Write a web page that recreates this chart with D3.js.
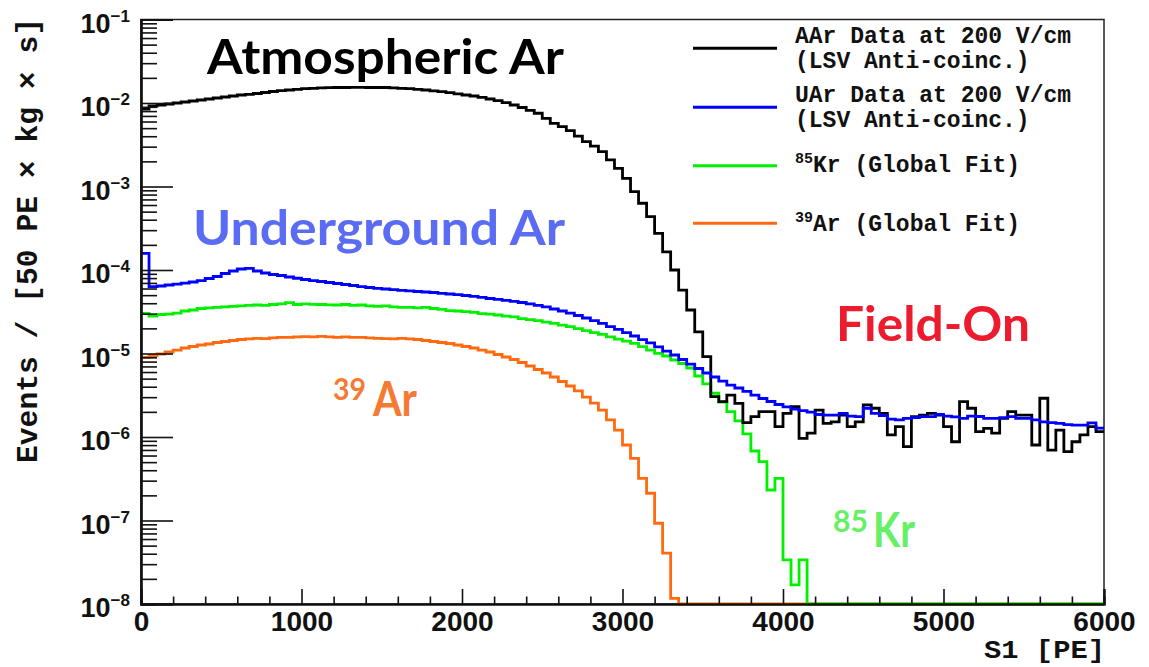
<!DOCTYPE html>
<html>
<head>
<meta charset="utf-8">
<script src="https://cdn.jsdelivr.net/npm/d3@7"></script>
<style>
  body { margin: 0; background: #fff; }
  svg { display: block; }
</style>
</head>
<body>
<div id="chart"></div>
<script>
// S1 spectra, 50 PE bins from 0 to 6000 PE (events / [50 PE x kg x s])
var binWidth = 50;

var aarData = [
  8.47e-3, 9.2e-3, 9.46e-3, 9.73e-3, 1.0e-2, 1.028e-2, 1.057e-2, 1.086e-2, 1.116e-2, 1.148e-2,
  1.18e-2, 1.213e-2, 1.247e-2, 1.271e-2, 1.30e-2, 1.336e-2, 1.374e-2, 1.404e-2, 1.432e-2, 1.46e-2,
  1.484e-2, 1.50e-2, 1.517e-2, 1.525e-2, 1.534e-2, 1.534e-2, 1.54e-2, 1.54e-2, 1.534e-2, 1.534e-2,
  1.534e-2, 1.52e-2, 1.50e-2, 1.484e-2, 1.46e-2, 1.432e-2, 1.40e-2, 1.365e-2, 1.328e-2, 1.288e-2,
  1.247e-2, 1.213e-2, 1.17e-2, 1.116e-2, 1.066e-2, 1.009e-2, 9.46e-3, 8.83e-3, 8.18e-3, 7.54e-3,
  6.56e-3, 5.71e-3, 5.2e-3, 4.66e-3, 4.02e-3, 3.44e-3, 3.05e-3, 2.61e-3, 2.08e-3, 1.65e-3,
  1.25e-3, 8.67e-4, 6.3e-4, 4.35e-4, 2.75e-4, 1.65e-4, 1.0e-4, 5.75e-5, 3.32e-5, 1.82e-5,
  9.16e-6, 3.04e-6, 2.65e-6, 3.18e-6, 2.53e-6, 1.49e-6, 1.75e-6, 2.01e-6, 2.01e-6, 1.33e-6,
  1.92e-6, 2.31e-6, 9.64e-7, 1.11e-6, 2.10e-6, 1.46e-6, 1.52e-6, 1.83e-6, 1.33e-6, 1.52e-6,
  2.42e-6, 2.21e-6, 1.92e-6, 1.06e-6, 1.33e-6, 7.65e-7, 1.75e-6, 1.83e-6, 1.92e-6, 1.83e-6,
  1.33e-6, 8.77e-7, 2.65e-6, 2.21e-6, 1.16e-6, 1.27e-6, 1.11e-6, 1.67e-6, 2.01e-6, 1.83e-6,
  1.83e-6, 8.02e-7, 2.91e-6, 6.98e-7, 1.21e-6, 6.67e-7, 8.77e-7, 1.06e-6, 1.33e-6, 1.16e-6
];

var uarData = [
  1.585e-4, 6.34e-5, 6.43e-5, 6.61e-5, 6.79e-5, 6.98e-5, 7.18e-5, 7.48e-5, 7.91e-5, 8.36e-5,
  9.08e-5, 9.73e-5, 1.028e-4, 1.047e-4, 9.73e-5, 9.21e-5, 8.83e-5, 8.59e-5, 8.24e-5, 7.96e-5,
  7.7e-5, 7.48e-5, 7.28e-5, 7.08e-5, 6.89e-5, 6.7e-5, 6.52e-5, 6.34e-5, 6.17e-5, 6.04e-5,
  5.92e-5, 5.81e-5, 5.71e-5, 5.61e-5, 5.53e-5, 5.45e-5, 5.38e-5, 5.26e-5, 5.16e-5, 5.06e-5,
  4.95e-5, 4.82e-5, 4.69e-5, 4.56e-5, 4.44e-5, 4.32e-5, 4.2e-5, 4.08e-5, 3.92e-5, 3.76e-5,
  3.61e-5, 3.41e-5, 3.23e-5, 3.05e-5, 2.85e-5, 2.66e-5, 2.48e-5, 2.29e-5, 2.1e-5, 1.94e-5,
  1.78e-5, 1.62e-5, 1.47e-5, 1.34e-5, 1.2e-5, 1.07e-5, 9.6e-6, 8.48e-6, 7.48e-6, 6.61e-6,
  5.84e-6, 5.23e-6, 4.68e-6, 4.19e-6, 3.86e-6, 3.51e-6, 3.18e-6, 2.89e-6, 2.66e-6, 2.45e-6,
  2.29e-6, 2.16e-6, 2.07e-6, 1.99e-6, 1.86e-6, 1.83e-6, 1.83e-6, 1.92e-6, 1.78e-6, 1.75e-6,
  2.21e-6, 1.92e-6, 1.81e-6, 1.64e-6, 1.60e-6, 1.67e-6, 1.71e-6, 1.75e-6, 1.75e-6, 1.87e-6,
  1.78e-6, 1.74e-6, 1.67e-6, 1.78e-6, 1.76e-6, 1.67e-6, 1.67e-6, 1.71e-6, 1.75e-6, 1.67e-6,
  1.67e-6, 1.60e-6, 1.52e-6, 1.49e-6, 1.46e-6, 1.41e-6, 1.39e-6, 1.39e-6, 1.48e-6, 1.28e-6
];

var kr85Data = [
  3.03e-5, 2.81e-5, 2.93e-5, 2.97e-5, 3.05e-5, 3.23e-5, 3.32e-5, 3.46e-5, 3.51e-5, 3.56e-5,
  3.61e-5, 3.66e-5, 3.71e-5, 3.76e-5, 3.81e-5, 3.76e-5, 3.86e-5, 3.92e-5, 4.06e-5, 3.86e-5,
  3.92e-5, 3.88e-5, 3.86e-5, 3.83e-5, 3.81e-5, 3.86e-5, 3.76e-5, 3.81e-5, 3.71e-5, 3.66e-5,
  3.71e-5, 3.61e-5, 3.56e-5, 3.57e-5, 3.51e-5, 3.56e-5, 3.46e-5, 3.37e-5, 3.27e-5, 3.23e-5,
  3.17e-5, 3.1e-5, 3.01e-5, 2.97e-5, 2.89e-5, 2.81e-5, 2.74e-5, 2.62e-5, 2.55e-5, 2.48e-5,
  2.38e-5, 2.29e-5, 2.19e-5, 2.1e-5, 1.99e-5, 1.88e-5, 1.78e-5, 1.69e-5, 1.58e-5, 1.49e-5,
  1.41e-5, 1.32e-5, 1.21e-5, 1.10e-5, 1.005e-5, 9.33e-6, 8.36e-6, 7.59e-6, 6.7e-6, 5.38e-6,
  4.32e-6, 3.34e-6, 2.62e-6, 2.01e-6, 1.56e-6, 1.09e-6, 6.8e-7, 5.06e-7, 2.32e-7, 3.2e-7,
  3.37e-8, 1.69e-8, 3.37e-8, 0, 0, 0, 0, 0, 0, 0,
  0, 0, 0, 0, 0, 0, 0, 0, 0, 0,
  0, 0, 0, 0, 0, 0, 0, 0, 0, 0,
  0, 0, 0, 0, 0, 0, 0, 0, 0, 0
];

var ar39Data = [
  8.99e-6, 9.46e-6, 9.86e-6, 1.042e-5, 1.10e-5, 1.164e-5, 1.213e-5, 1.265e-5, 1.30e-5, 1.355e-5,
  1.393e-5, 1.432e-5, 1.472e-5, 1.493e-5, 1.514e-5, 1.504e-5, 1.535e-5, 1.556e-5, 1.563e-5, 1.578e-5,
  1.59e-5, 1.578e-5, 1.60e-5, 1.578e-5, 1.563e-5, 1.578e-5, 1.556e-5, 1.563e-5, 1.535e-5, 1.514e-5,
  1.504e-5, 1.493e-5, 1.521e-5, 1.493e-5, 1.472e-5, 1.432e-5, 1.393e-5, 1.355e-5, 1.318e-5, 1.265e-5,
  1.213e-5, 1.164e-5, 1.10e-5, 1.042e-5, 9.73e-6, 9.08e-6, 8.48e-6, 7.8e-6, 7.08e-6, 6.43e-6,
  5.84e-6, 5.23e-6, 4.62e-6, 4.08e-6, 3.56e-6, 3.01e-6, 2.55e-6, 2.1e-6, 1.6e-6, 1.21e-6,
  8.02e-7, 5.56e-7, 3.2e-7, 2.12e-7, 9.27e-8, 4.06e-8, 1.17e-8, 0, 0, 0,
  0, 0, 0, 0, 0, 0, 0, 0, 0, 0,
  0, 0, 0, 0, 0, 0, 0, 0, 0, 0,
  0, 0, 0, 0, 0, 0, 0, 0, 0, 0,
  0, 0, 0, 0, 0, 0, 0, 0, 0, 0,
  0, 0, 0, 0, 0, 0, 0, 0, 0, 0
];

var seriesNames = ["39Ar (Global Fit)", "85Kr (Global Fit)", "AAr Data at 200 V/cm", "UAr Data at 200 V/cm"];
var seriesColors = ["#ff6a10", "#00f000", "#000000", "#0000ff"];
var xTicks = [0, 1000, 2000, 3000, 4000, 5000, 6000];

var svg_width = 1149;
var svg_height = 667;

var svg = d3.select("#chart")
            .append("svg")
            .attr("width", svg_width)
            .attr("height", svg_height)
            .style("background", "#fff");

var x = d3.scaleLinear()
          .domain([0, 6000])
          .range([141, 1104]);

var y = d3.scaleLog()
          .domain([1e-8, 1e-1])
          .range([604, 19.5]);

// plot frame
svg.append("rect")
   .attr("x", 141).attr("y", 19.5)
   .attr("width", 963).attr("height", 584.5)
   .style("fill", "none")
   .style("stroke", "#222")
   .style("stroke-width", 1.5);

svg.append("defs").append("clipPath").attr("id", "plotClip")
   .append("rect").attr("x", 139).attr("y", 17).attr("width", 967).attr("height", 590);

// histograms (drawn as steps, empty bins sit on the floor)
function histPoints(vals){
  var pts = vals.map((v, i) => [i * binWidth, v]);
  pts.push([vals.length * binWidth, vals[vals.length - 1]]);
  return pts;
}

var stepLine = d3.line()
                 .x(d => x(d[0]))
                 .y(d => y(Math.max(d[1], 1e-8)))
                 .curve(d3.curveStepAfter);

var allSeries = [ar39Data, kr85Data, aarData, uarData];

svg.append("g")
   .attr("clip-path", "url(#plotClip)")
   .selectAll("path")
   .data(allSeries)
   .enter()
   .append("path")
   .attr("d", d => stepLine(histPoints(d)))
   .style("fill", "none")
   .style("stroke", (d, i) => seriesColors[i])
   .style("stroke-width", 2.8)
   .style("stroke-linejoin", "miter");

// axes
var yTickVals = y.ticks();
var isMajor = d => Math.abs(Math.log10(d) - Math.round(Math.log10(d))) < 1e-6;
var yMajors = yTickVals.filter(isMajor);
var yMinors = yTickVals.filter(d => !isMajor(d));

var yAxisMajor = d3.axisLeft().scale(y).tickValues(yMajors).tickSize(-32).tickFormat("");
var yAxisMinor = d3.axisLeft().scale(y).tickValues(yMinors).tickSize(-16).tickFormat("");

svg.append("g").attr("class", "y axis major")
   .attr("transform", "translate(141,0)")
   .call(yAxisMajor);
svg.append("g").attr("class", "y axis minor")
   .attr("transform", "translate(141,0)")
   .call(yAxisMinor);

var xMinors = d3.range(0, 6001, 200).filter(d => d % 1000 != 0);
var xAxisMajor = d3.axisBottom().scale(x).tickValues(xTicks).tickSize(-15)
                   .tickPadding(7).tickFormat(d3.format("d"));
var xAxisMinor = d3.axisBottom().scale(x).tickValues(xMinors).tickSize(-7.5).tickFormat("");

svg.append("g").attr("class", "x axis major")
   .attr("transform", "translate(0,604)")
   .call(xAxisMajor);
svg.append("g").attr("class", "x axis minor")
   .attr("transform", "translate(0,604)")
   .call(xAxisMinor);

svg.selectAll(".axis .domain").style("stroke", "#111").style("stroke-width", 2.2);
svg.selectAll(".axis .tick line").style("stroke", "#111").style("stroke-width", 1.6);

svg.selectAll(".x.axis.major .tick text")
   .style("font-family", "'Liberation Sans', Arial, Helvetica, sans-serif")
   .style("font-weight", "bold")
   .style("font-size", "28px")
   .style("fill", "#111");

// y tick labels 10^n
svg.append("g").selectAll("text")
   .data(yMajors)
   .enter()
   .append("text")
   .attr("x", 130)
   .attr("y", d => y(d) + 13)
   .attr("text-anchor", "end")
   .style("font-family", "'Liberation Sans', Arial, Helvetica, sans-serif")
   .style("font-weight", "bold")
   .style("font-size", "27px")
   .style("fill", "#111")
   .each(function(d){
     var t = d3.select(this);
     t.append("tspan").text("10");
     t.append("tspan")
      .attr("dy", -11)
      .style("font-size", "17px")
      .text("\u2212" + (-Math.round(Math.log10(d))));
   });

// axis titles
svg.append("text")
   .attr("transform", "translate(37,18) rotate(-90)")
   .attr("text-anchor", "end")
   .attr("textLength", 445)
   .attr("lengthAdjust", "spacingAndGlyphs")
   .style("font-family", "'Liberation Mono', 'Courier New', monospace")
   .style("font-weight", "bold")
   .style("font-size", "29px")
   .style("fill", "#111")
   .text("Events / [50 PE \u00d7 kg \u00d7 s]");

svg.append("text")
   .attr("x", 1105)
   .attr("y", 658)
   .attr("text-anchor", "end")
   .attr("textLength", 121)
   .attr("lengthAdjust", "spacingAndGlyphs")
   .style("font-family", "'Liberation Mono', 'Courier New', monospace")
   .style("font-weight", "bold")
   .style("font-size", "26px")
   .style("fill", "#111")
   .text("S1 [PE]");

// legend
var legendRows = [
  {color: seriesColors[2], lineY: 48.3, lines: [{y: 43, sup: null, text: "AAr Data at 200 V/cm"}, {y: 68, sup: null, text: "(LSV Anti-coinc.)"}]},
  {color: seriesColors[3], lineY: 107.3, lines: [{y: 101.7, sup: null, text: "UAr Data at 200 V/cm"}, {y: 126.7, sup: null, text: "(LSV Anti-coinc.)"}]},
  {color: seriesColors[1], lineY: 165.7, lines: [{y: 171.5, sup: "85", text: "Kr (Global Fit)"}]},
  {color: seriesColors[0], lineY: 223.3, lines: [{y: 230.5, sup: "39", text: "Ar (Global Fit)"}]}
];

var legend = svg.append("g").attr("class", "legend");

legendRows.forEach(function(row){
  legend.append("line")
        .attr("x1", 693).attr("x2", 777)
        .attr("y1", row.lineY).attr("y2", row.lineY)
        .style("stroke", row.color)
        .style("stroke-width", 3);
  row.lines.forEach(function(l){
    var t = legend.append("text")
                  .attr("x", 795)
                  .attr("y", l.y)
                  .style("font-family", "'Liberation Mono', 'Courier New', monospace")
                  .style("font-weight", "bold")
                  .style("font-size", "23px")
                  .style("fill", "#111");
    if (l.sup){
      t.append("tspan").attr("dy", -9).style("font-size", "15px").text(l.sup);
      t.append("tspan").attr("dy", 9).text(l.text);
    } else {
      t.text(l.text);
    }
  });
});

// annotations on the plot
var annoFont = "Lato, 'Open Sans', 'Noto Sans', sans-serif";
var annotations = [
  {text: "Atmospheric Ar", x: 207, y: 73.5, size: 48, len: 357, color: "#000000"},
  {text: "Underground Ar", x: 193, y: 245, size: 47, len: 372, color: "#5b6cf4"},
  {text: "Field-On", x: 836, y: 341, size: 47, len: 194, color: "#ec1b2d"},
  {text: "39", x: 333, y: 400, size: 31, len: 33, color: "#f57a33"},
  {text: "Ar", x: 373, y: 416, size: 48, len: 44, color: "#f57a33"},
  {text: "85", x: 833, y: 532, size: 31, len: 35, color: "#66f066"},
  {text: "Kr", x: 873, y: 547, size: 48, len: 42, color: "#66f066"}
];

svg.append("g").selectAll("text")
   .data(annotations)
   .enter()
   .append("text")
   .attr("x", d => d.x)
   .attr("y", d => d.y)
   .attr("textLength", d => d.len)
   .attr("lengthAdjust", "spacingAndGlyphs")
   .style("font-family", annoFont)
   .style("font-weight", "bold")
   .style("font-size", d => d.size + "px")
   .style("fill", d => d.color)
   .text(d => d.text);
</script>
</body>
</html>
